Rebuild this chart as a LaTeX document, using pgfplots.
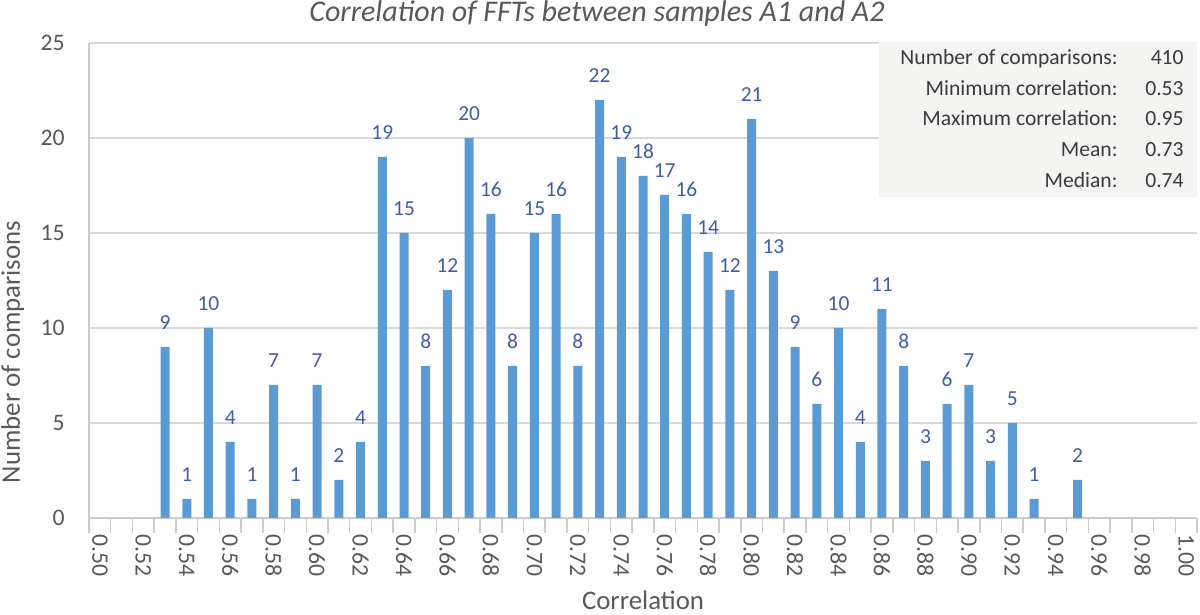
\documentclass[border=0pt]{standalone}
\usepackage{pgfplots}
\pgfplotsset{compat=1.18}
\usepackage{fontspec}
\setmainfont{Carlito}
\definecolor{barblue}{HTML}{5B9BD5}
\definecolor{lblblue}{HTML}{3F5DA8}
\definecolor{gridgray}{HTML}{D9D9D9}
\definecolor{axgray}{HTML}{CBCBCB}
\definecolor{txtgray}{HTML}{595959}
\definecolor{boxtext}{HTML}{3A3A3A}
\definecolor{boxfill}{HTML}{F4F5F3}
\begin{document}
\begin{tikzpicture}
\begin{axis}[
  name=ax,
  scale only axis,
  width=554pt, height=237.5pt,
  xmin=-0.5, xmax=50.5,
  ymin=0, ymax=25,
  axis x line*=bottom,
  axis y line*=left,
  axis line style={-, draw=axgray, line width=0.75pt},
  ytick={0,5,10,15,20,25},
  yticklabels={0,5,10,15,20,25},
  ymajorgrids,
  grid style={draw=gridgray, line width=0.75pt},
  xtick={0,2,...,50},
  xticklabels={0.50,0.52,0.54,0.56,0.58,0.60,0.62,0.64,0.66,0.68,0.70,0.72,0.74,0.76,0.78,0.80,0.82,0.84,0.86,0.88,0.90,0.92,0.94,0.96,0.98,1.00},
  minor xtick={-0.5,0.5,...,50.5},
  major tick length=0pt,
  minor tick length=7.5pt,
  tick align=center,
  tick style={draw=axgray, line width=0.75pt},
  xticklabel style={rotate=-90, anchor=west, inner sep=0pt, font=\fontsize{11.85pt}{14pt}\selectfont, text=txtgray},
  xticklabel shift=8pt,
  yticklabel style={anchor=east, inner sep=0pt, xshift=-12pt, font=\fontsize{11.85pt}{14pt}\selectfont, text=txtgray},
  /pgf/number format/assume math mode=true,
  ybar, bar width=4.5pt,
  clip=false,
  nodes near coords,
  every node near coord/.append style={anchor=base, yshift=8.5pt, font=\fontsize{10.7pt}{12pt}\selectfont, text=lblblue},
]
\addplot[fill=barblue, draw=none] coordinates {
(3,9) (4,1) (5,10) (6,4) (7,1) (8,7) (9,1) (10,7) (11,2) (12,4)
(13,19) (14,15) (15,8) (16,12) (17,20) (18,16) (19,8) (20,15) (21,16) (22,8)
(23,22) (24,19) (25,18) (26,17) (27,16) (28,14) (29,12) (30,21) (31,13) (32,9)
(33,6) (34,10) (35,4) (36,11) (37,8) (38,3) (39,6) (40,7) (41,3) (42,5)
(43,1) (45,2)
};
% info box
\fill[boxfill] (axis description cs:0.713,0.6758) rectangle (axis description cs:1.0,1.002);
\begin{scope}[every node/.style={inner sep=0pt, anchor=base east, text=boxtext, font=\fontsize{10.8pt}{12pt}\selectfont}]
\node at (axis description cs:0.9287,0.9537) {Number of comparisons:};
\node at (axis description cs:0.9287,0.8895) {Minimum correlation:};
\node at (axis description cs:0.9287,0.8253) {Maximum correlation:};
\node at (axis description cs:0.9287,0.7611) {Mean:};
\node at (axis description cs:0.9287,0.6968) {Median:};
\node at (axis description cs:0.9883,0.9537) {410};
\node at (axis description cs:0.9883,0.8895) {0.53};
\node at (axis description cs:0.9883,0.8253) {0.95};
\node at (axis description cs:0.9883,0.7611) {0.73};
\node at (axis description cs:0.9883,0.6968) {0.74};
\end{scope}
% title and axis labels
\node[anchor=base, inner sep=0pt, text=txtgray, font=\fontsize{15pt}{18pt}\selectfont\itshape] at (axis description cs:0.4585,1.0442) {Correlation of FFTs between samples A1 and A2};
\node[anchor=base, inner sep=0pt, text=txtgray, font=\fontsize{13.4pt}{16pt}\selectfont] at (axis description cs:0.5,-0.1925) {Correlation};
\node[anchor=base, rotate=90, inner sep=0pt, text=txtgray, font=\fontsize{13.4pt}{16pt}\selectfont] at (axis description cs:-0.0623,0.3495) {Number of comparisons};
\end{axis}
\pgfresetboundingbox
\path ([shift={(-44.5pt,-48.5pt)}]ax.south west) rectangle ([shift={(555.5pt,259pt)}]ax.south west);
\end{tikzpicture}
\end{document}
